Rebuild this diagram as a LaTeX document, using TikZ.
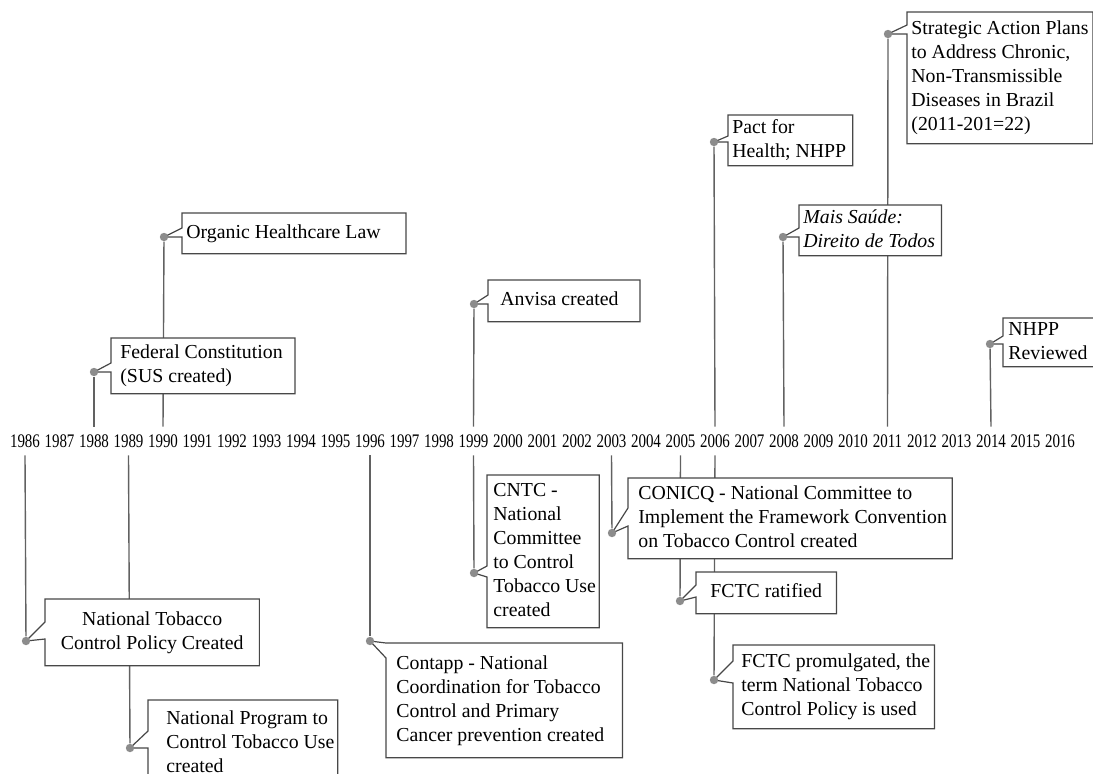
\documentclass[tikz,border=0pt]{standalone}
\usepackage{fontspec}
\setmainfont{Liberation Serif}
\usepackage{graphicx}
\usetikzlibrary{calc}
\usetikzlibrary{backgrounds}
\colorlet{stemgray}{black!62}
\colorlet{boxgray}{black!72}
\colorlet{dotgray}{black!45}
% text of an event: left pad, right pad, lines
\newcommand\evtext[4][l]{\begin{tabular}{@{\hspace{#2}}#1@{\hspace{#3}}}#4\end{tabular}}
\newcommand\yrtext[1]{\scalebox{.78}[1]{#1}}
% box round an event with its notch: node, dot, notch top, notch bottom
\newcommand\bubble[4]{%
  \draw[bubble] ($(#1.west|-#2)+(0,#3)$) -- (#1.north west) -- (#1.north east)
    -- (#1.south east) -- (#1.south west) -- ($(#1.west|-#2)+(0,#4)$) -- (#2.center) -- cycle;}
\tikzstyle{ev}=[anchor=north west,inner sep=0pt,font=\fontsize{9.9}{12}\selectfont]
\tikzstyle{yr}=[inner sep=0pt,minimum height=14pt,font=\fontsize{9.6}{12}\selectfont]
\tikzstyle{evdot}=[circle,fill=dotgray,inner sep=0pt,minimum size=4.2pt]
\tikzstyle{stem}=[draw=stemgray,line width=.7pt]
\tikzstyle{bubble}=[draw=boxgray,fill=white,line width=.6pt,line join=miter]
\begin{document}
\begin{tikzpicture}[x=.5pt,y=-.5pt]
	\useasboundingbox (0,0) rectangle (1093,773);
	\clip (0,0) rectangle (1093,773);
	\foreach \yr in {1986,...,2016}
		\node[yr] (y\yr) at ({25+34.5*(\yr-1986)},441) {\yrtext{\yr}};
	% above the years
	\node[evdot] (dFed)   at (94,372) {};
	\node[evdot] (dOrg)   at (164,237) {};
	\node[evdot] (dAnv)   at (474,304) {};
	\node[evdot] (dPact)  at (714,142) {};
	\node[evdot] (dMais)  at (783,237) {};
	\node[evdot] (dStrat) at (888,34) {};
	\node[evdot] (dNhpp)  at (990,344) {};
	\node[ev,minimum height=27.5pt] (fed) at (111,338) {\evtext{4.5pt}{6pt}{Federal Constitution\\(SUS created)}};
	\node[ev,minimum height=20pt] (org) at (182,213) {\evtext{2pt}{12.5pt}{Organic Healthcare Law}};
	\node[ev,minimum height=20.5pt] (anv) at (488,280) {\evtext{6pt}{10.5pt}{Anvisa created}};
	\node[ev,minimum height=25pt] (pact) at (728,115) {\evtext{2pt}{3pt}{Pact for\\Health; NHPP}};
	\node[ev,minimum height=25pt] (mais) at (799,205) {\evtext{2pt}{3pt}{\textit{Mais Saúde:}\\\textit{Direito de Todos}}};
	\node[ev,minimum height=65.5pt] (strat) at (907,12) {\evtext{2pt}{2pt}{Strategic Action Plans\\to Address Chronic,\\Non-Transmissible\\Diseases in Brazil\\(2011-201=22)}};
	\node[ev,minimum height=24pt] (nhpp) at (1003,318) {\evtext{2.5pt}{10pt}{NHPP\\Reviewed}};
	% below the years
	\node[evdot] (dNtc)  at (26,641) {};
	\node[evdot] (dNp)   at (130,748) {};
	\node[evdot] (dCon)  at (370,641) {};
	\node[evdot] (dCntc) at (474,573) {};
	\node[evdot] (dConi) at (612,533) {};
	\node[evdot] (dRat)  at (680,601) {};
	\node[evdot] (dProm) at (714,680) {};
	\node[ev,minimum height=33pt] (ntc) at (45,599) {\evtext[c]{7.75pt}{7.75pt}{National Tobacco\\Control Policy Created}};
	\node[ev,minimum height=43pt] (np) at (148,700) {\evtext{9pt}{1.5pt}{National Program to\\Control Tobacco Use\\created}};
	\node[ev,minimum height=57pt] (con) at (386,643) {\evtext{5pt}{9pt}{Contapp - National\\Coordination for Tobacco\\Control and Primary\\Cancer prevention created}};
	\node[ev,minimum height=76pt] (cntc) at (487,475) {\evtext{3pt}{1.5pt}{CNTC -\\National\\Committee\\to Control\\Tobacco Use\\created}};
	\node[ev,minimum height=40pt] (coni) at (628,478) {\evtext{5pt}{2.5pt}{CONICQ - National Committee to\\Implement the Framework Convention\\on Tobacco Control created}};
	\node[ev,minimum height=20.5pt] (rat) at (696,572) {\evtext{7pt}{7pt}{FCTC ratified}};
	\node[ev,minimum height=41.5pt] (prom) at (733,645) {\evtext{4pt}{2pt}{FCTC promulgated, the\\term National Tobacco\\Control Policy is used}};
	\begin{scope}[on background layer]
		\draw[stem] (y1988.north) -- (dFed);
		\draw[stem] (y1990.north) -- (dOrg);
		\draw[stem] (y1999.north) -- (dAnv);
		\draw[stem] (y2006.north) -- (dPact);
		\draw[stem] (y2008.north) -- (dMais);
		\draw[stem] (y2011.north) -- (dStrat);
		\draw[stem] (y2014.north) -- (dNhpp);
		\draw[stem] (y1986.south) -- (dNtc);
		\draw[stem] (y1989.south) -- (dNp);
		\draw[stem] (y1996.south) -- (dCon);
		\draw[stem] (y1999.south) -- (dCntc);
		\draw[stem] (y2003.south) -- (dConi);
		\draw[stem] (y2005.south) -- (dRat);
		\draw[stem] (y2006.south) -- (dProm);
		\bubble{fed}{dFed}{-9}{0}
		\bubble{org}{dOrg}{-9}{0}
		\bubble{anv}{dAnv}{-9}{0}
		\bubble{pact}{dPact}{-6}{0}
		\bubble{mais}{dMais}{-9}{0}
		\bubble{strat}{dStrat}{-9}{0}
		\bubble{nhpp}{dNhpp}{-8}{0}
		\bubble{ntc}{dNtc}{-19}{-2}
		\bubble{np}{dNp}{-17}{0}
		\bubble{con}{dCon}{2}{17}
		\bubble{cntc}{dCntc}{-7}{4}
		\bubble{coni}{dConi}{-25}{-7}
		\bubble{rat}{dRat}{-16}{-4}
		\bubble{prom}{dProm}{-19}{3}
	\end{scope}
\end{tikzpicture}
\end{document}
